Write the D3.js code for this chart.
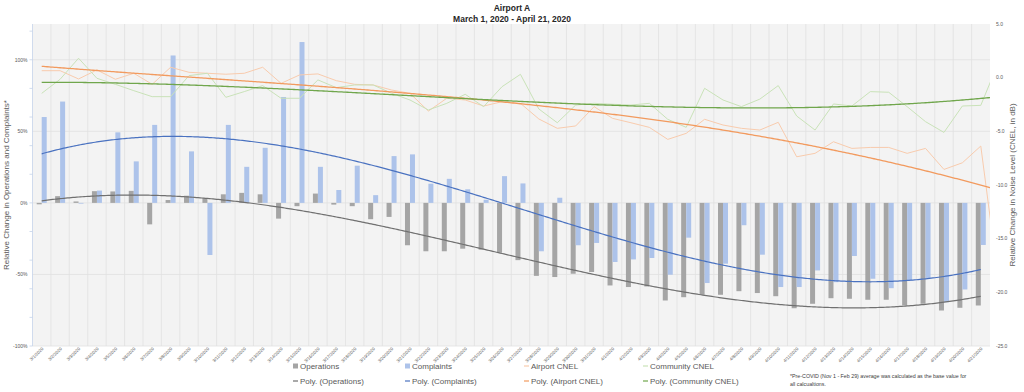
<!DOCTYPE html>
<html><head><meta charset="utf-8">
<script src="https://cdn.jsdelivr.net/npm/d3@7"></script>
<style>
html,body{margin:0;padding:0;background:#fff;}
svg{display:block;font-family:"Liberation Sans",Arial,sans-serif;}
</style></head>
<body><svg id="c" width="1024" height="392"></svg>
<script>
const dates = ["3/1/2020","3/2/2020","3/3/2020","3/4/2020","3/5/2020","3/6/2020","3/7/2020","3/8/2020","3/9/2020","3/10/2020",
"3/11/2020","3/12/2020","3/13/2020","3/14/2020","3/15/2020","3/16/2020","3/17/2020","3/18/2020","3/19/2020","3/20/2020",
"3/21/2020","3/22/2020","3/23/2020","3/24/2020","3/25/2020","3/26/2020","3/27/2020","3/28/2020","3/29/2020","3/30/2020",
"3/31/2020","4/1/2020","4/2/2020","4/3/2020","4/4/2020","4/5/2020","4/6/2020","4/7/2020","4/8/2020","4/9/2020",
"4/10/2020","4/11/2020","4/12/2020","4/13/2020","4/14/2020","4/15/2020","4/16/2020","4/17/2020","4/18/2020","4/19/2020",
"4/20/2020","4/21/2020"];
const operations = [-1,4.7,1,8.2,8,8.4,-15,2,5,3.3,6,7,6,-11,-2.3,6.5,-1.2,-2.3,-11.4,-9.8,
-29.6,-33.8,-33.8,-32,-32.7,-34.8,-40,-51,-51.8,-49.5,-48.3,-57.7,-58.8,-58.4,-68.2,-65.9,-64.2,-64.2,-61.7,-63,
-65.2,-73.6,-70.5,-66.6,-67,-67.7,-67.7,-71.7,-70.5,-75.2,-73.3,-71.7];
const complaints = [60,70.8,-0.5,8.6,49.3,29,54.5,103,36,-36.4,54.5,25.2,38.5,74,112.4,25.2,9,26,5.4,32.7,
33.9,13.4,16.8,9.5,2.2,18.7,13.6,-33.8,3.6,-29.6,-28,-41.3,-39.5,-38.5,-50.2,-24.3,-56,-42.5,-15.6,-36.2,
-58.8,-58.8,-47.2,-55.4,-37.1,-53,-59.6,-54.2,-52.5,-69.4,-60.5,-29.4];
// CNEL series carry one extra (partial) day that runs off the right edge of the plot
const airportCNEL = [0.65,0.65,-0.12,0.72,-0.15,0.41,-0.62,0.97,0.5,0.41,0.32,0.41,0.97,-0.53,0.25,0.35,-0.28,-0.62,-0.68,-1.15,
-1.46,-3.11,-1.92,-2.08,-2.64,-2.24,-2.39,-3.85,-4.72,-4.5,-2.7,-3.79,-4.2,-4.63,-5.75,-5.19,-3.88,-4.41,-4.72,-4.88,
-4.16,-7.37,-7.05,-5.97,-6.59,-6.5,-6.5,-7.05,-6.59,-8.55,-7.93,-6.37,-19.5];
const communityCNEL = [-1.46,-0.15,1.81,-0.06,-0.62,-1.21,-1.77,-1.77,0.19,0.41,-1.83,-1.3,-0.74,-1.92,-1.92,-0.21,-0.93,-0.68,-0.68,-1.46,
-2.08,-3.01,-2.39,-1.55,-2.7,-0.84,0.31,-2.92,-4.2,-2.55,-2.39,-2.48,-2.55,-2.39,-3.88,-4.63,-0.99,-2.08,-2.7,-2.0,
-0.74,-3.57,-4.88,-2.45,-2.64,-1.3,-1.36,-2.7,-4.1,-5.1,-2.64,-2.58,1.6];
const leftTickLabels = [-100,-50,0,50,100];
const leftMinorTicks = [-100,-80,-60,-40,-20,0,20,40,60,80,100,120];
const rightTickLabels = [5,0,-5,-10,-15,-20,-25];
const trendOrder = 3;

const svg = d3.select("#c");
const P = {l:32.5, r:990, t:24, b:346};

const x = d3.scaleBand().domain(dates).range([P.l, P.r]).paddingInner(0).paddingOuter(0);
const bw = x.bandwidth();
const xs = d3.scaleBand().domain(["Operations","Complaints"]).range([bw/2-5, bw/2+5]);
const xi = d3.scaleLinear().domain([-0.5, dates.length-0.5]).range([P.l, P.r]);
const yL = d3.scaleLinear().domain([-100,125]).range([P.b, P.t]);
const yR = d3.scaleLinear().domain([-25,5]).range([P.b, P.t]);

svg.append("defs").append("clipPath").attr("id","clip")
  .append("rect").attr("x",P.l).attr("y",P.t).attr("width",P.r-P.l).attr("height",P.b-P.t);

svg.append("rect").attr("x",P.l).attr("y",P.t).attr("width",P.r-P.l).attr("height",P.b-P.t).attr("fill","#f3f3f3");

const g = svg.append("g");
g.selectAll(".vg").data(dates.slice(1)).join("line")
  .attr("x1",d=>x(d)).attr("x2",d=>x(d)).attr("y1",P.t).attr("y2",P.b)
  .attr("stroke","#e1e1e1").attr("stroke-width",0.8);
g.selectAll(".hg").data(leftTickLabels).join("line")
  .attr("x1",P.l).attr("x2",P.r).attr("y1",d=>yL(d)).attr("y2",d=>yL(d))
  .attr("stroke","#e1e1e1").attr("stroke-width",0.8);

const colors = {Operations:"#a5a5a5", Complaints:"#adc3ea"};
const plot = svg.append("g").attr("clip-path","url(#clip)");

[["Operations",operations],["Complaints",complaints]].forEach(([name,vals])=>{
  plot.selectAll(null).data(vals).join("rect")
    .attr("x",(d,i)=>x(dates[i])+xs(name))
    .attr("width",xs.bandwidth())
    .attr("y",d=>yL(Math.max(0,d)))
    .attr("height",d=>Math.abs(yL(d)-yL(0)))
    .attr("fill",colors[name]);
});

const lineR = d3.line().x((d,i)=>xi(i)).y(d=>yR(d));
plot.append("path").datum(airportCNEL).attr("d",lineR).attr("fill","none").attr("stroke","#f8cbad").attr("stroke-width",1);
plot.append("path").datum(communityCNEL).attr("d",lineR).attr("fill","none").attr("stroke","#c9e2b8").attr("stroke-width",1);

function polyfit(ys, order){
  const n = ys.length, m = order+1;
  const A = Array.from({length:m},()=>new Array(m+1).fill(0));
  for(let i=0;i<n;i++){
    const xv = i+1;
    for(let j=0;j<m;j++){
      for(let k=0;k<m;k++) A[j][k] += Math.pow(xv,j+k);
      A[j][m] += ys[i]*Math.pow(xv,j);
    }
  }
  for(let c=0;c<m;c++){
    let p=c; for(let r=c+1;r<m;r++) if(Math.abs(A[r][c])>Math.abs(A[p][c])) p=r;
    [A[c],A[p]]=[A[p],A[c]];
    for(let r=0;r<m;r++){ if(r===c) continue; const f=A[r][c]/A[c][c]; for(let k=c;k<=m;k++) A[r][k]-=f*A[c][k]; }
  }
  return A.map((row,j)=>row[m]/row[j]);
}
function trend(vals, yscale, color, w){
  const co = polyfit(vals, trendOrder);
  const pts = d3.range(0, vals.length-1+0.001, 0.1).map(t=>{
    const xv=t+1; let v=0; co.forEach((c,j)=>v+=c*Math.pow(xv,j)); return [xi(t), yscale(v)];
  });
  plot.append("path").attr("d",d3.line()(pts)).attr("fill","none").attr("stroke",color).attr("stroke-width",w);
}
trend(operations, yL, "#707070", 1.2);
trend(complaints, yL, "#4a72c0", 1.2);
trend(airportCNEL, yR, "#f29a5e", 1.3);
trend(communityCNEL, yR, "#70a64c", 1.3);

svg.append("line").attr("x1",P.l).attr("x2",P.l).attr("y1",P.t).attr("y2",P.b).attr("stroke","#c5d3ea").attr("stroke-width",0.8);
svg.selectAll(".lt").data(leftMinorTicks).join("line")
  .attr("x1",P.l-3).attr("x2",P.l).attr("y1",d=>yL(d)).attr("y2",d=>yL(d)).attr("stroke","#c5d3ea").attr("stroke-width",0.8);
svg.selectAll(".ll").data(leftTickLabels).join("text")
  .attr("x",P.l-5).attr("y",d=>yL(d)+1.8).attr("text-anchor","end")
  .attr("font-size",5).attr("fill","#595959").text(d=>d+"%");
svg.selectAll(".rl").data(rightTickLabels).join("text")
  .attr("x",P.r+6).attr("y",d=>yR(d)+1.8).attr("text-anchor","start")
  .attr("font-size",5).attr("fill","#595959").text(d=>d3.format(".1f")(d).replace("−","-"));

svg.selectAll(".xl").data(dates).join("text")
  .attr("transform",d=>`translate(${x(d)+bw/2+2},${P.b+3}) rotate(-45)`)
  .attr("text-anchor","end").attr("font-size",4.4).attr("fill","#595959").text(d=>d);

svg.append("text").attr("transform",`translate(9,${(P.t+P.b)/2}) rotate(-90)`)
  .attr("text-anchor","middle").attr("font-size",8).attr("fill","#595959").text("Relative Change in Operations and Complaints*");
svg.append("text").attr("transform",`translate(1015,${(P.t+P.b)/2}) rotate(-90)`)
  .attr("text-anchor","middle").attr("font-size",8).attr("fill","#595959").text("Relative Change in Noise Level (CNEL, in dB)");

svg.append("text").attr("x",512).attr("y",11).attr("text-anchor","middle").attr("font-size",8.5).attr("font-weight","bold").attr("fill","#262626").text("Airport A");
svg.append("text").attr("x",512).attr("y",22).attr("text-anchor","middle").attr("font-size",8.5).attr("font-weight","bold").attr("fill","#262626").text("March 1, 2020 - April 21, 2020");

const leg = [
  {x:293,y:369,type:"rect",color:"#a5a5a5",label:"Operations"},
  {x:405,y:369,type:"rect",color:"#adc3ea",label:"Complaints"},
  {x:524,y:369,type:"line",color:"#f8cbad",label:"Airport CNEL"},
  {x:643,y:369,type:"line",color:"#c9e2b8",label:"Community CNEL"},
  {x:293,y:384,type:"line",color:"#707070",label:"Poly. (Operations)"},
  {x:405,y:384,type:"line",color:"#4a72c0",label:"Poly. (Complaints)"},
  {x:524,y:384,type:"line",color:"#f29a5e",label:"Poly. (Airport CNEL)"},
  {x:643,y:384,type:"line",color:"#70a64c",label:"Poly. (Community CNEL)"}
];
const lg = svg.selectAll(".lg").data(leg).join("g").attr("transform",d=>`translate(${d.x},${d.y})`);
lg.each(function(d){
  const s=d3.select(this);
  if(d.type==="rect") s.append("rect").attr("x",0).attr("y",-5.5).attr("width",5).attr("height",5).attr("fill",d.color);
  else s.append("line").attr("x1",0).attr("x2",5).attr("y1",-3).attr("y2",-3).attr("stroke",d.color).attr("stroke-width",1.2);
  s.append("text").attr("x",7).attr("y",0).attr("font-size",8).attr("fill","#595959").text(d.label);
});
svg.append("text").attr("x",790).attr("y",378).attr("font-size",5.3).attr("fill","#404040").text("*Pre-COVID (Nov 1 - Feb 29) average was calculated as the base value for");
svg.append("text").attr("x",790).attr("y",386).attr("font-size",5.3).attr("fill","#404040").text("all calcualtions.");
</script></body></html>
